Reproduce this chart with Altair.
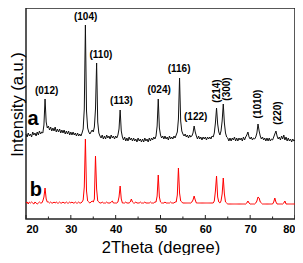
import altair as alt
import pandas as pd

# 2Theta sampling grid (degrees), 0.25 deg step from 20 to 80
two_theta = [round(20 + 0.25 * i, 2) for i in range(241)]

intensity_a = [
    87, 84, 88, 85, 87, 84, 89, 86, 88, 85, 89, 86, 90, 87, 89, 88, 96, 122, 99, 93,
    95, 91, 94, 90, 93, 90, 94, 89, 92, 89, 92, 88, 91, 88, 91, 87, 90, 87, 90, 86,
    89, 86, 89, 86, 88, 85, 88, 85, 87, 85, 88, 92, 112, 196, 110, 93, 89, 87, 89, 91,
    89, 94, 112, 158, 99, 88, 85, 83, 86, 82, 85, 82, 86, 83, 85, 82, 86, 83, 85, 82,
    85, 83, 86, 92, 111, 90, 84, 81, 84, 80, 83, 80, 84, 81, 83, 80, 83, 80, 82, 79,
    83, 80, 82, 79, 82, 79, 83, 80, 82, 79, 83, 80, 83, 81, 84, 82, 85, 95, 122, 93,
    86, 83, 85, 82, 85, 82, 84, 81, 85, 82, 84, 82, 85, 83, 86, 89, 102, 143, 100, 90,
    87, 85, 87, 84, 86, 83, 86, 84, 85, 88, 95, 89, 85, 82, 85, 82, 84, 81, 84, 82,
    84, 81, 84, 82, 84, 82, 85, 84, 88, 98, 113, 97, 89, 86, 90, 100, 117, 98, 88, 84,
    83, 80, 83, 80, 83, 81, 84, 80, 83, 80, 83, 81, 83, 80, 84, 81, 84, 86, 89, 84,
    82, 84, 81, 83, 82, 84, 88, 97, 90, 85, 82, 84, 81, 83, 80, 83, 80, 83, 80, 82,
    81, 84, 87, 90, 85, 82, 84, 81, 85, 82, 86, 81, 84, 80, 83, 80, 82, 79, 82, 80,
    81,
]

# Trace b (red, reference pattern) - intensity (a.u.)
intensity_b = [
    18, 19, 17, 19, 18, 19, 18, 17, 19, 18, 17, 18, 19, 18, 18, 20, 24, 33, 22, 19,
    19, 18, 19, 18, 18, 19, 18, 19, 18, 18, 19, 18, 18, 19, 18, 18, 19, 18, 18, 19,
    18, 19, 18, 18, 19, 18, 18, 19, 18, 18, 19, 21, 34, 82, 30, 20, 19, 18, 19, 20,
    19, 22, 65, 32, 20, 19, 18, 18, 19, 18, 18, 18, 19, 18, 18, 18, 19, 20, 18, 18,
    18, 18, 19, 24, 35, 22, 18, 18, 18, 19, 18, 18, 18, 19, 22, 19, 18, 18, 19, 18,
    18, 18, 19, 18, 18, 18, 19, 18, 18, 18, 18, 19, 18, 18, 18, 19, 19, 25, 46, 24,
    19, 18, 18, 18, 19, 18, 18, 18, 18, 19, 18, 18, 18, 19, 19, 26, 53, 28, 20, 19,
    18, 18, 18, 18, 18, 18, 18, 18, 19, 21, 25, 21, 18, 18, 18, 18, 18, 18, 18, 18,
    18, 18, 18, 18, 18, 18, 18, 18, 20, 30, 45, 24, 19, 18, 20, 27, 43, 27, 19, 18,
    17, 17, 17, 17, 17, 17, 17, 17, 17, 17, 17, 17, 17, 17, 17, 17, 17, 18, 20, 18,
    17, 17, 17, 17, 17, 18, 20, 24, 23, 19, 18, 17, 17, 17, 17, 17, 17, 17, 17, 17,
    17, 19, 23, 19, 17, 17, 17, 17, 17, 17, 18, 20, 17, 17, 17, 17, 17, 17, 17, 17,
    17,
]

# Peak (hkl) labels: text, x position (2Theta), y position (a.u.)
hkl_flat = ["(012)", "(104)", "(110)", "(113)", "(024)", "(116)", "(122)"]
hkl_flat_x = [24.6, 33.3, 36.7, 41.3, 49.7, 54.15, 57.85]
hkl_flat_y = [130, 204, 166, 120, 131, 152.5, 104.5]

hkl_rot = ["(214)", "(300)", "(1010)", "(220)"]
hkl_rot_x = [62.6, 64.9, 71.8, 76.1]
hkl_rot_y = [130, 132, 117, 108]

panel_labels = ["a", "b"]
panel_x = [21.6, 22.2]
panel_y = [96, 25]

tick_major = [20, 30, 40, 50, 60, 70, 80]
tick_minor = [25, 35, 45, 55, 65, 75]

df_a = pd.DataFrame({"t": two_theta, "I": intensity_a})
df_b = pd.DataFrame({"t": two_theta, "I": intensity_b})
df_flat = pd.DataFrame({"label": hkl_flat, "t": hkl_flat_x, "I": hkl_flat_y})
df_rot = pd.DataFrame({"label": hkl_rot, "t": hkl_rot_x, "I": hkl_rot_y})
df_panel = pd.DataFrame({"label": panel_labels, "t": panel_x, "I": panel_y})
df_tmaj = pd.DataFrame({"t": tick_major})
df_tmin = pd.DataFrame({"t": tick_minor})

FONT = "Liberation Sans"
Y0, Y1 = 2, 213

x_enc = alt.X(
    "t:Q",
    scale=alt.Scale(domain=[20, 80], nice=False, zero=False),
    axis=alt.Axis(
        values=tick_major, title="2Theta (degree)", grid=False, ticks=False,
        domain=False, labelFont=FONT, labelFontSize=11, labelFontWeight="bold",
        labelColor="black", labelPadding=4, titleFont=FONT, titleFontSize=16.5,
        titleFontWeight="normal", titleColor="black", titlePadding=5,
    ),
)
y_scale = alt.Scale(domain=[Y0, Y1], nice=False, zero=False)
y_enc = alt.Y(
    "I:Q", scale=y_scale,
    axis=alt.Axis(
        title="Intensity (a.u.)", labels=False, ticks=False, grid=False,
        domain=False, titleFont=FONT, titleFontSize=16.5, titleFontWeight="normal",
        titleColor="black", titleX=-4, titleY=96, titleAngle=270,
        titleBaseline="alphabetic", titleAlign="center",
    ),
)

line_a = alt.Chart(df_a).mark_line(color="#111111", strokeWidth=1).encode(x=x_enc, y=y_enc)
line_b = alt.Chart(df_b).mark_line(color="#ff0000", strokeWidth=1).encode(x="t:Q", y="I:Q")

ticks_maj = alt.Chart(df_tmaj).mark_rule(color="#222222", strokeWidth=1).encode(
    x="t:Q", y=alt.datum(Y0), y2=alt.datum(Y0 + 4)
)
ticks_min = alt.Chart(df_tmin).mark_rule(color="#222222", strokeWidth=1).encode(
    x="t:Q", y=alt.datum(Y0), y2=alt.datum(Y0 + 2.5)
)

txt_flat = alt.Chart(df_flat).mark_text(
    font=FONT, fontSize=10, fontWeight="bold", color="black", baseline="middle", align="center"
).encode(x="t:Q", y="I:Q", text="label:N")

txt_rot = alt.Chart(df_rot).mark_text(
    font=FONT, fontSize=10, fontWeight="bold", color="black", baseline="middle",
    align="center", angle=270
).encode(x="t:Q", y="I:Q", text="label:N")

txt_panel = alt.Chart(df_panel).mark_text(
    font=FONT, fontSize=20, fontWeight="bold", color="black", baseline="alphabetic", align="center"
).encode(x="t:Q", y="I:Q", text="label:N")

chart = (
    alt.layer(line_a, line_b, ticks_maj, ticks_min, txt_flat, txt_rot, txt_panel)
    .properties(
        width=269, height=211,
        autosize=alt.AutoSizeParams(type="none"),
        padding={"left": 18, "top": 0, "right": 0, "bottom": 36},
        background="white",
    )
    .configure_view(stroke="#222222", strokeWidth=1.5)
)

chart.save("out.html", embed_options={"renderer": "svg", "actions": False})
